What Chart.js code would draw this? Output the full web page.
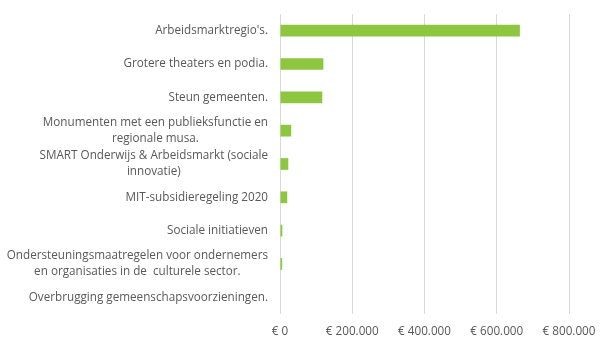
<!DOCTYPE html>
<html>
<head>
<meta charset="utf-8">
<script src="https://cdn.jsdelivr.net/npm/chart.js@4/dist/chart.umd.min.js"></script>
<style>
  html, body { margin: 0; padding: 0; background: #fff; }
  #wrap { width: 610px; height: 350px; }
</style>
</head>
<body>
<div id="wrap"><canvas id="budgetChart"></canvas></div>
<script>
// categories (multi-line ones as arrays), values in euro, x ticks
const categories = [
  "Arbeidsmarktregio's.",
  "Grotere theaters en podia.",
  "Steun gemeenten.",
  ["Monumenten met een publieksfunctie en", "regionale musa."],
  ["SMART Onderwijs & Arbeidsmarkt (sociale", "innovatie)"],
  "MIT-subsidieregeling 2020",
  "Sociale initiatieven",
  ["Ondersteuningsmaatregelen voor ondernemers", "en organisaties in de  culturele sector."],
  "Overbrugging gemeenschapsvoorzieningen."
];
const amounts = [664000, 120000, 117000, 31000, 23000, 20000, 6500, 6000, 0];
const xTicks = [0, 200000, 400000, 600000, 800000];

function euro(v) {
  return '€ ' + String(v).replace(/\B(?=(\d{3})+(?!\d))/g, '.');
}

// Excel style labels: block right aligned, lines centered in the block
const catLabels = {
  id: 'catLabels',
  afterDraw(chart) {
    const ctx = chart.ctx;
    const y = chart.scales.y;
    ctx.save();
    ctx.font = '11.7px "Open Sans"';
    ctx.fillStyle = '#595959';
    ctx.textBaseline = 'middle';
    ctx.textAlign = 'center';
    const right = y.right - 12;
    const lineH = 16;
    categories.forEach((lab, i) => {
      const lines = Array.isArray(lab) ? lab : [lab];
      const w = Math.max(...lines.map(l => ctx.measureText(l).width));
      const cy = y.getPixelForValue(i);
      lines.forEach((l, j) => {
        ctx.fillText(l, right - w / 2, cy + (j - (lines.length - 1) / 2) * lineH);
      });
    });
    ctx.restore();
  }
};

new Chart(document.getElementById('budgetChart'), {
  type: 'bar',
  data: {
    labels: categories,
    datasets: [{
      data: amounts,
      backgroundColor: '#8DC63F',
      categoryPercentage: 0.8,
      barPercentage: 0.44
    }]
  },
  options: {
    indexAxis: 'y',
    responsive: true,
    maintainAspectRatio: false,
    animation: false,
    layout: { padding: { top: 14, right: 41, bottom: 0, left: 0 } },
    plugins: { legend: { display: false }, tooltip: { enabled: false } },
    scales: {
      x: {
        min: 0,
        max: 800000,
        afterBuildTicks: s => { s.ticks = xTicks.map(v => ({ value: v })); },
        grid: { color: '#d9d9d9', drawTicks: false },
        border: { display: false },
        ticks: {
          padding: 11,
          color: '#595959',
          font: { family: 'Open Sans', size: 11.7 },
          callback: v => euro(v)
        }
      },
      y: {
        grid: { display: false },
        border: { display: false },
        ticks: { display: false },
        afterFit: s => { s.width = 280; }
      }
    }
  },
  plugins: [catLabels]
});
</script>
</body>
</html>
